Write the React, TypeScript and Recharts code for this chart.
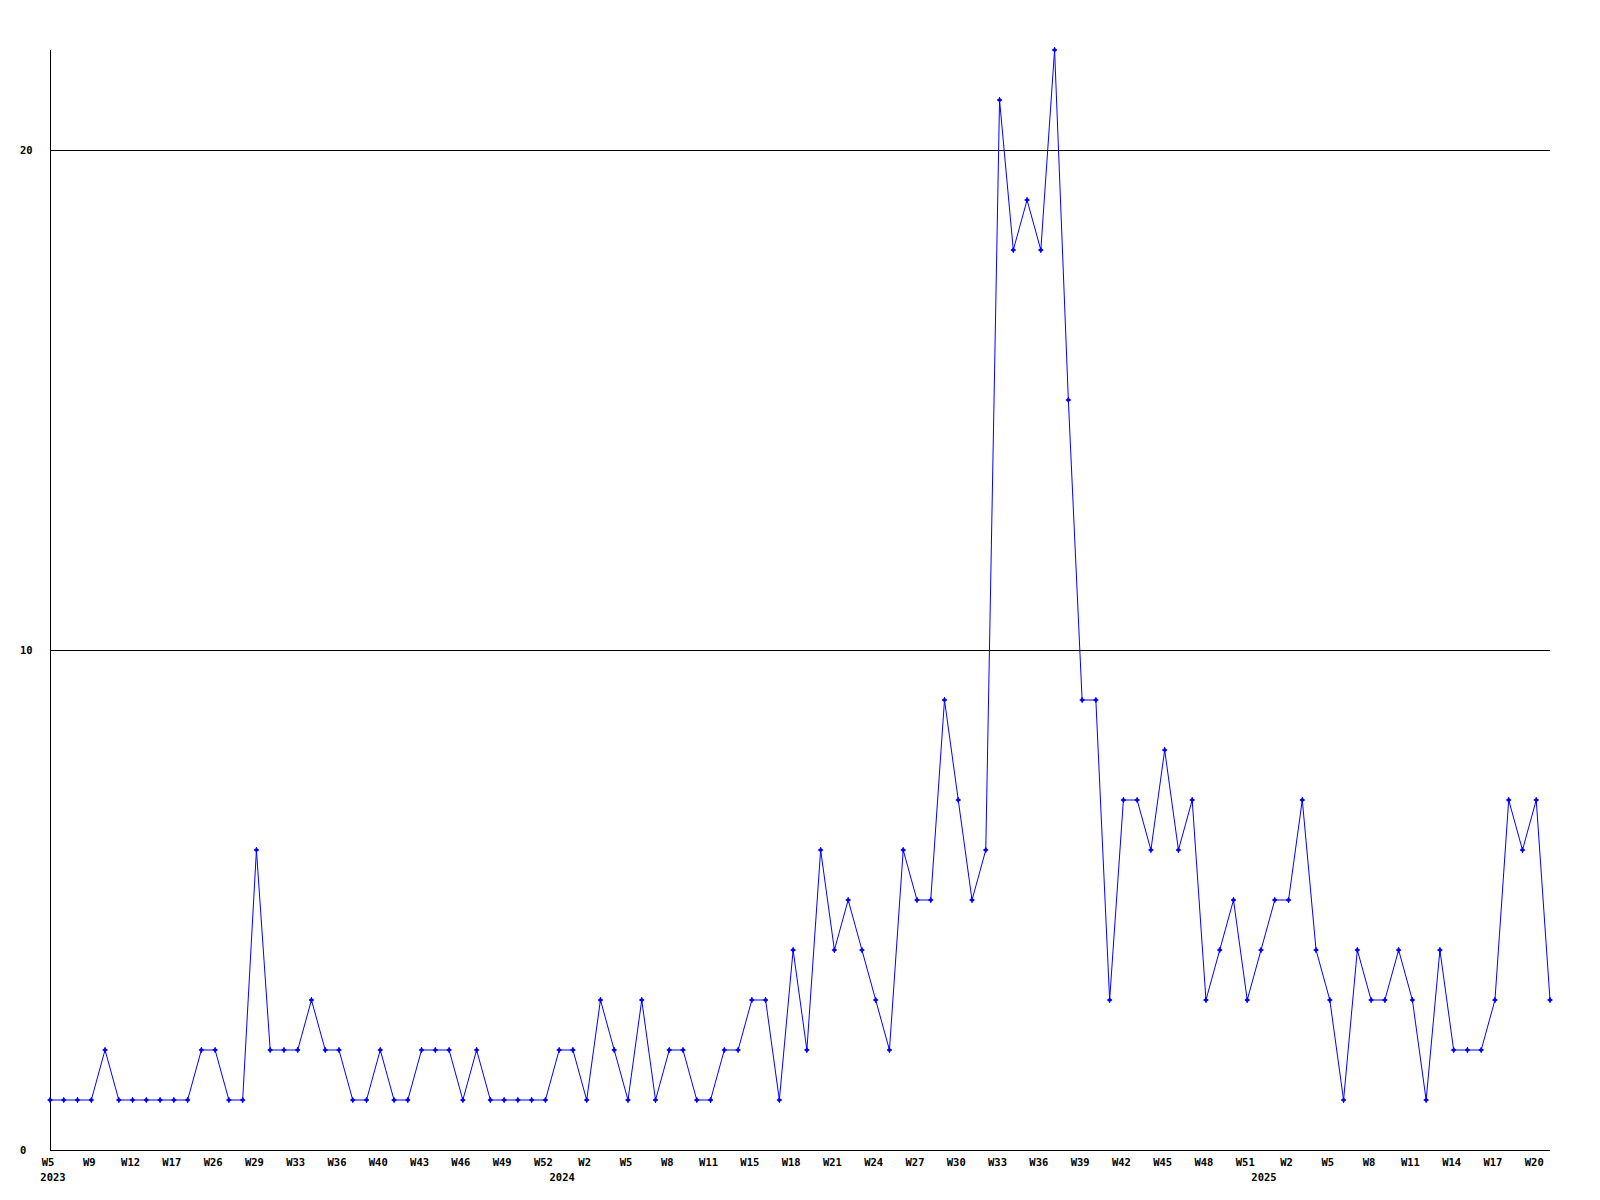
import React from "react";
import { LineChart, Line, XAxis, YAxis, CartesianGrid } from "recharts";

const weeks: string[] = [
  "W5", "W6", "W8", "W9", "W10", "W11", "W12", "W14", "W16", "W17",
  "W20", "W24", "W26", "W27", "W28", "W29", "W30", "W32", "W33", "W34",
  "W35", "W36", "W38", "W39", "W40", "W41", "W42", "W43", "W44", "W45",
  "W46", "W47", "W48", "W49", "W50", "W51", "W52", "W0", "W1", "W2",
  "W3", "W4", "W5", "W6", "W7", "W8", "W9", "W10", "W11", "W13",
  "W14", "W15", "W16", "W17", "W18", "W19", "W20", "W21", "W22", "W23",
  "W24", "W25", "W26", "W27", "W28", "W29", "W30", "W31", "W32", "W33",
  "W34", "W35", "W36", "W37", "W38", "W39", "W40", "W41", "W42", "W43",
  "W44", "W45", "W46", "W47", "W48", "W49", "W50", "W51", "W0", "W1",
  "W2", "W3", "W4", "W5", "W6", "W7", "W8", "W9", "W10", "W11",
  "W12", "W13", "W14", "W15", "W16", "W17", "W18", "W19", "W20", "W21",
];

const years: number[] = [
  ...Array(37).fill(2023),
  ...Array(51).fill(2024),
  ...Array(22).fill(2025),
];

const values: number[] = [
  1, 1, 1, 1, 2, 1, 1, 1, 1, 1,
  1, 2, 2, 1, 1, 6, 2, 2, 2, 3,
  2, 2, 1, 1, 2, 1, 1, 2, 2, 2,
  1, 2, 1, 1, 1, 1, 1, 2, 2, 1,
  3, 2, 1, 3, 1, 2, 2, 1, 1, 2,
  2, 3, 3, 1, 4, 2, 6, 4, 5, 4,
  3, 2, 6, 5, 5, 9, 7, 5, 6, 21,
  18, 19, 18, 22, 15, 9, 9, 3, 7, 7,
  6, 8, 6, 7, 3, 4, 5, 3, 4, 5,
  5, 7, 4, 3, 1, 4, 3, 3, 4, 3,
  1, 4, 2, 2, 2, 3, 7, 6, 7, 3,
];

const yTicks: number[] = [0, 10, 20];
const gridValues: number[] = [10, 20];

const data = values.map((v, i) => ({
  key: `${years[i]}-${weeks[i]}-${i}`,
  week: weeks[i],
  year: years[i],
  value: v,
}));

const FONT = "'DejaVu Sans Mono', 'Liberation Mono', monospace";

const XTick = (props: any) => {
  const { x, y, index } = props;
  const d = data[index];
  if (!d) return null;
  const showWeek = index % 3 === 0;
  const showYear = index === 0 || (index > 0 && data[index - 1].year !== d.year);
  return (
    <g>
      {showWeek && (
        <text x={x - 2} y={y + 16} textAnchor="middle" fontFamily={FONT} fontWeight="bold" fontSize={10.5} fill="#000">
          {d.week}
        </text>
      )}
      {showYear && (
        <text x={x + 3} y={y + 31} textAnchor="middle" fontFamily={FONT} fontWeight="bold" fontSize={10.5} fill="#000">
          {d.year}
        </text>
      )}
    </g>
  );
};

const YTick = (props: any) => {
  const { y, payload } = props;
  return (
    <text x={20} y={y + 4} textAnchor="start" fontFamily={FONT} fontWeight="bold" fontSize={10.5} fill="#000">
      {payload.value}
    </text>
  );
};

const Marker = (props: any) => {
  const { cx, cy, index } = props;
  if (cx == null || cy == null) return null;
  return (
    <g key={`m-${index}`}>
      <path d={`M${cx - 2.5},${cy} L${cx},${cy - 2.5} L${cx + 2.5},${cy} L${cx},${cy + 2.5} Z`} fill="#0000ff" stroke="none" />
      <line x1={cx - 2.5} y1={cy} x2={cx + 2.5} y2={cy} stroke="#0000ff" strokeWidth={1} />
      <line x1={cx} y1={cy - 3} x2={cx} y2={cy + 3} stroke="#0000ff" strokeWidth={1} />
    </g>
  );
};

export default function App() {
  return (
    <div style={{ position: "absolute", left: 0, top: 0, width: 1600, height: 1200, background: "#fff" }}>
      <LineChart width={1600} height={1200} data={data} margin={{ top: 50, right: 50, bottom: 30, left: 0 }}>
        <CartesianGrid
          vertical={false}
          horizontalValues={gridValues}
          stroke="#000"
          strokeWidth={1}
          shapeRendering="crispEdges"
        />
        <XAxis
          dataKey="key"
          type="category"
          interval={0}
          height={20}
          tickSize={0}
          tickMargin={0}
          tickLine={false}
          axisLine={{ stroke: "#000", strokeWidth: 1, shapeRendering: "crispEdges" }}
          tick={<XTick />}
        />
        <YAxis
          type="number"
          domain={[0, 22]}
          ticks={yTicks}
          interval={0}
          width={50}
          tickSize={0}
          tickMargin={0}
          tickLine={false}
          axisLine={{ stroke: "#000", strokeWidth: 1, shapeRendering: "crispEdges" }}
          tick={<YTick />}
        />
        <Line
          type="linear"
          dataKey="value"
          stroke="#0000ff"
          strokeWidth={1}
          dot={<Marker />}
          activeDot={false}
          isAnimationActive={false}
        />
      </LineChart>
    </div>
  );
}
